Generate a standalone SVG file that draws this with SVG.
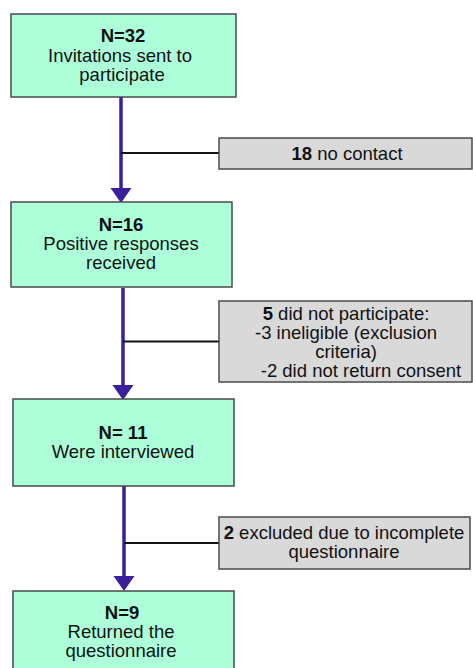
<svg xmlns="http://www.w3.org/2000/svg" width="473" height="668" viewBox="0 0 473 668">
<defs>
<style>
.main{fill:#ADFFD9;stroke:#4a4a4a;stroke-width:1.5}
.side{fill:#D9D9D9;stroke:#4a4a4a;stroke-width:1.5}
text{font-family:"Liberation Sans",Arial,sans-serif;font-size:18.5px;fill:#111;text-anchor:middle}
.b{font-weight:bold}
.flow{stroke:#3A1E9C;stroke-width:3.5;fill:none}
.branch{stroke:#111;stroke-width:2;fill:none}
.head{fill:#3A1E9C}
</style>
</defs>
<rect width="473" height="668" fill="#fff"/>
<g id="connectors">
<line class="flow" x1="121" y1="97" x2="121" y2="188"/>
<path class="head" d="M110.5,188 L131.5,188 L121,203 Z"/>
<line class="branch" x1="121" y1="153" x2="219" y2="153"/>
<line class="flow" x1="123" y1="288" x2="123" y2="385"/>
<path class="head" d="M112.5,385 L133.5,385 L123,400 Z"/>
<line class="branch" x1="123" y1="341.5" x2="219" y2="341.5"/>
<line class="flow" x1="124" y1="486" x2="124" y2="576"/>
<path class="head" d="M113.5,576 L134.5,576 L124,591 Z"/>
<line class="branch" x1="124" y1="543" x2="219" y2="543"/>
</g>
<g id="n1">
<rect class="main" x="11" y="14" width="225" height="83"/>
<text x="123" y="42" class="b">N=32</text>
<text x="120" y="62">Invitations sent to</text>
<text x="122" y="81">participate</text>
</g>
<g id="s1">
<rect class="side" x="219" y="138" width="253" height="31"/>
<text x="347" y="160"><tspan class="b">18</tspan> no contact</text>
</g>
<g id="n2">
<rect class="main" x="11" y="202" width="221" height="85"/>
<text x="121" y="231" class="b">N=16</text>
<text x="121" y="250">Positive responses</text>
<text x="121" y="269">received</text>
</g>
<g id="s2">
<rect class="side" x="219" y="301" width="253" height="81"/>
<text x="346" y="319.5"><tspan class="b">5</tspan> did not participate:</text>
<text x="346" y="338.5">-3 ineligible (exclusion</text>
<text x="346" y="357.5">criteria)</text>
<text x="361" y="376.5">-2 did not return consent</text>
</g>
<g id="n3">
<rect class="main" x="13" y="399" width="221" height="87"/>
<text x="123" y="438.5" class="b">N= 11</text>
<text x="123" y="457.5">Were interviewed</text>
</g>
<g id="s3">
<rect class="side" x="219" y="517" width="251" height="52"/>
<text x="344" y="538.5"><tspan class="b">2</tspan> excluded due to incomplete</text>
<text x="344" y="558">questionnaire</text>
</g>
<g id="n4">
<rect class="main" x="13" y="591" width="221" height="90"/>
<text x="122" y="618.5" class="b">N=9</text>
<text x="121" y="638">Returned the</text>
<text x="121" y="657">questionnaire</text>
</g>
</svg>
